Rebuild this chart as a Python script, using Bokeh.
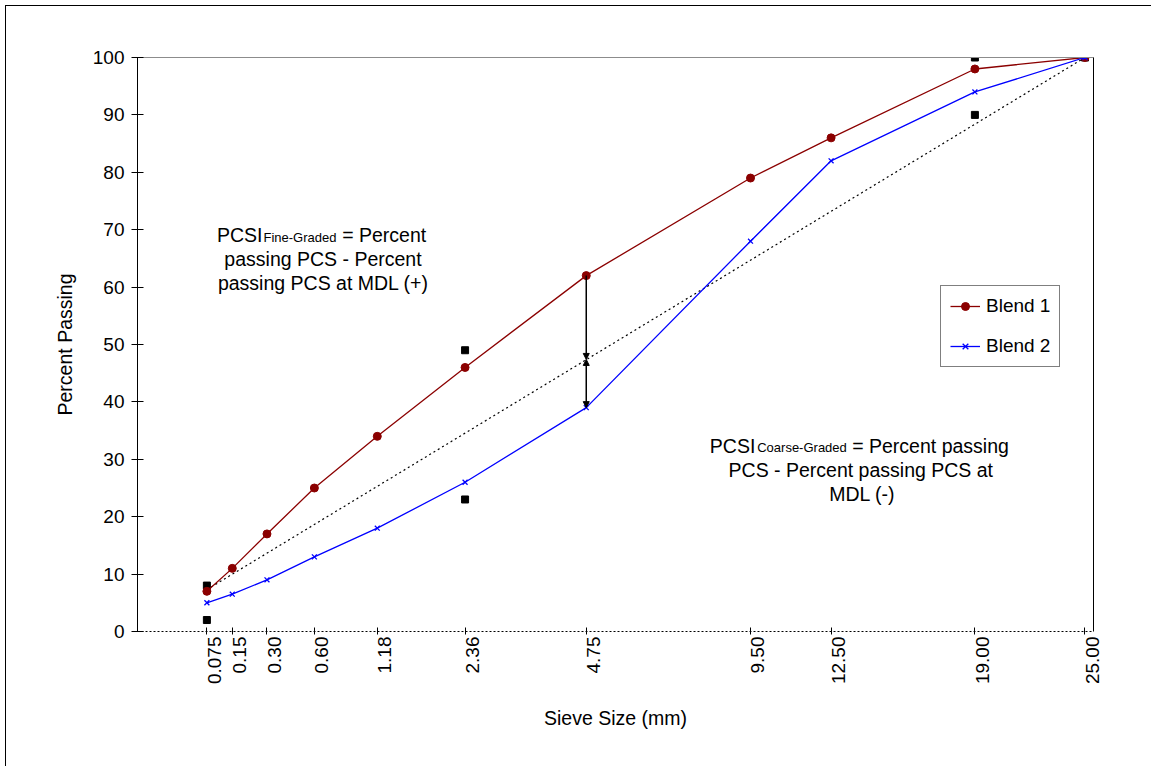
import math
from bokeh.plotting import figure
from bokeh.models import (FixedTicker, CustomJSTickFormatter, LinearAxis, Range1d,
                          Legend, LegendItem, Arrow, NormalHead, Label, ColumnDataSource)
from bokeh.embed import file_html
from bokeh.resources import INLINE

# ---------------- data ----------------
sieve_sizes = [0.075, 0.15, 0.30, 0.60, 1.18, 2.36, 4.75, 9.50, 12.50, 19.00, 25.00]
sieve_labels = ["0.075", "0.15", "0.30", "0.60", "1.18", "2.36", "4.75",
                "9.50", "12.50", "19.00", "25.00"]
blend1 = [7, 11, 17, 25, 34, 46, 62, 79, 86, 98, 100]
blend2 = [5, 6.5, 9, 13, 18, 26, 39, 68, 82, 94, 100]
control_sizes = [0.075, 0.075, 2.36, 2.36, 19.00, 19.00, 25.00]
control_pct = [2, 8, 23, 49, 90, 100, 100]
mdl_sizes = [0.075, 25.00]
mdl_pct = [7.3, 100]
arrow_size = 4.75
arrow_mdl_pct = 47.4
y_ticks = list(range(0, 101, 10))

EXP = 0.45  # 0.45 power gradation chart


def tx(s):
    return s ** EXP


FONT = "Liberation Sans"
RED = "#8B0000"
BLUE = "#0000FF"
LABEL_SHIFT = 0.033  # small rightward offset of the rotated tick labels (as in the original)

p = figure(width=1146, height=761, x_range=Range1d(0, 4.295), y_range=Range1d(0, 100),
           output_backend="svg", toolbar_location=None,
           min_border_left=131, min_border_right=59, min_border_top=51, min_border_bottom=136)
p.xgrid.visible = False
p.ygrid.visible = False
p.outline_line_color = None
p.background_fill_color = "white"
p.border_fill_color = "white"
p.styles = {"margin-left": "5px", "margin-top": "5px",
            "border-left": "1px solid black", "border-top": "1px solid black"}

xt = [tx(s) for s in sieve_sizes]
fmt_code = """
let best = 0, bd = 1e9;
for (let i = 0; i < tvals.length; i++) {
  const d = Math.abs(tvals[i] - tick);
  if (d < bd) { bd = d; best = i; }
}
return tlabels[best];
"""

# x axis: ticks and dashed line only
xa = p.xaxis[0]
xa.ticker = FixedTicker(ticks=xt)
xa.formatter = CustomJSTickFormatter(code="return '';")
xa.major_label_standoff = 0
xa.major_label_text_font_size = "1px"
xa.major_tick_in = 4
xa.major_tick_out = 3
xa.major_tick_line_color = "black"
xa.minor_tick_line_color = None
xa.axis_line_color = "black"
xa.axis_line_dash = "2 2"

# x axis: labels (second axis below the first)
xl = LinearAxis(ticker=FixedTicker(ticks=[v + LABEL_SHIFT for v in xt]),
                formatter=CustomJSTickFormatter(args=dict(tvals=xt, tlabels=sieve_labels),
                                                code=fmt_code),
                axis_line_color=None, major_tick_line_color=None, minor_tick_line_color=None,
                major_tick_in=0, major_tick_out=0)
xl.major_label_orientation = math.pi / 2
xl.major_label_text_font = FONT
xl.major_label_text_font_size = "19px"
xl.major_label_text_color = "black"
xl.major_label_standoff = 2
xl.axis_label = "Sieve Size (mm)"
xl.axis_label_text_font = FONT
xl.axis_label_text_font_size = "19.5px"
xl.axis_label_text_font_style = "normal"
xl.axis_label_text_color = "black"
xl.axis_label_standoff = 20
p.add_layout(xl, "below")

# y axis
ya = p.yaxis[0]
ya.ticker = FixedTicker(ticks=y_ticks)
ya.major_label_text_font = FONT
ya.major_label_text_font_size = "19px"
ya.major_label_text_color = "black"
ya.major_label_standoff = 7
ya.major_tick_in = 6
ya.major_tick_out = 6
ya.major_tick_line_color = "black"
ya.minor_tick_line_color = None
ya.axis_line_color = "black"
ya.axis_label = "Percent Passing"
ya.axis_label_text_font = FONT
ya.axis_label_text_font_size = "19.5px"
ya.axis_label_text_font_style = "normal"
ya.axis_label_text_color = "black"
ya.axis_label_standoff = 14

# frame: right black line, top gray line
ra = LinearAxis(ticker=FixedTicker(ticks=[]), axis_line_color="black",
                major_tick_line_color=None, minor_tick_line_color=None)
p.add_layout(ra, "right")
ta = LinearAxis(ticker=FixedTicker(ticks=[]), axis_line_color="#8c8c8c",
                major_tick_line_color=None, minor_tick_line_color=None)
p.add_layout(ta, "above")

# maximum density line
p.line([tx(s) for s in mdl_sizes], mdl_pct, line_color="black", line_width=1.2, line_dash="2 3")

# control points
p.scatter([tx(s) for s in control_sizes], control_pct, marker="square", size=7,
          fill_color="black", line_color="black")

src1 = ColumnDataSource(dict(x=xt, y=blend1))
src2 = ColumnDataSource(dict(x=xt, y=blend2))
r1l = p.line("x", "y", source=src1, line_color=RED, line_width=1.3)
r1m = p.scatter("x", "y", source=src1, marker="circle", size=8, fill_color=RED, line_color=RED)
r2l = p.line("x", "y", source=src2, line_color=BLUE, line_width=1.3)
r2m = p.scatter("x", "y", source=src2, marker="x", size=7, line_color=BLUE, line_width=1.3)

# arrows at 4.75 mm
ia = sieve_sizes.index(arrow_size)
ax_ = tx(arrow_size)
p.add_layout(Arrow(x_start=ax_, y_start=blend1[ia], x_end=ax_, y_end=arrow_mdl_pct,
                   line_color="black", line_width=1.5,
                   end=NormalHead(size=6, fill_color="black", line_color="black"), start=None))
p.add_layout(Arrow(x_start=ax_, y_start=arrow_mdl_pct, x_end=ax_, y_end=blend2[ia],
                   line_color="black", line_width=1.5,
                   start=NormalHead(size=6, fill_color="black", line_color="black"),
                   end=NormalHead(size=6, fill_color="black", line_color="black")))

# legend
legend = Legend(items=[LegendItem(label="Blend 1", renderers=[r1l, r1m]),
                       LegendItem(label="Blend 2", renderers=[r2l, r2m])],
                location=(803, 264), border_line_color="black", border_line_width=1,
                background_fill_color="white", background_fill_alpha=1.0,
                label_text_font=FONT, label_text_font_size="19px", label_text_color="black",
                glyph_width=30, glyph_height=20, label_height=20, spacing=18,
                padding=9, margin=0, label_standoff=6)
p.add_layout(legend)


def lab(text, x, y, size="19.5px", align="left"):
    p.add_layout(Label(x=x, y=y, x_units="screen", y_units="screen", text=text,
                       text_font=FONT, text_font_size=size, text_color="black",
                       text_align=align, text_baseline="alphabetic"))


# fine-graded annotation
lab("PCSI", 79.5, 396.3)
lab("Fine-Graded", 126, 394, size="13px")
lab("= Percent", 204.7, 396.3)
lab("passing PCS - Percent", 185.5, 372.3, align="center")
lab("passing PCS at MDL (+)", 185.8, 348.7, align="center")

# coarse-graded annotation
lab("PCSI", 572.3, 186)
lab("Coarse-Graded", 619.7, 184.3, size="13px")
lab("= Percent passing", 714.7, 186)
lab("PCS - Percent passing PCS at", 723.3, 161.7, align="center")
lab("MDL (-)", 724.7, 137.7, align="center")

open("out.html", "w").write(file_html(p, INLINE))
